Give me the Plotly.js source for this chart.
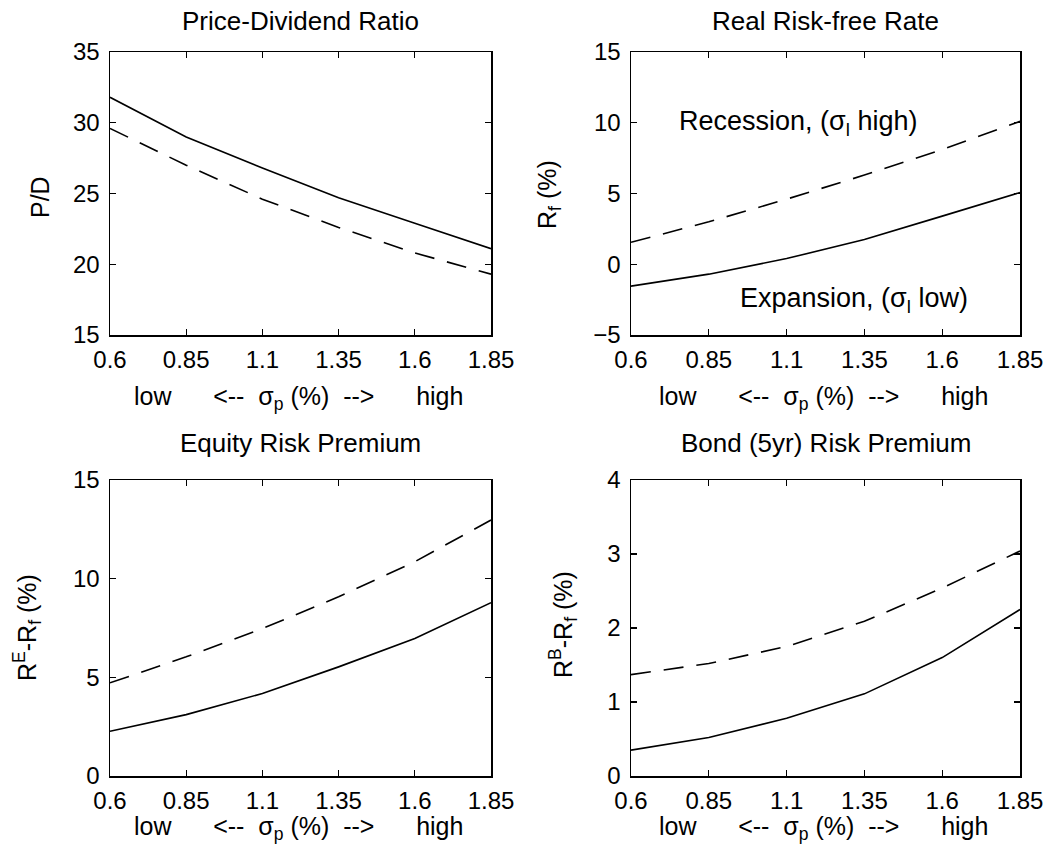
<!DOCTYPE html>
<html>
<head>
<meta charset="utf-8">
<script src="https://cdn.plot.ly/plotly-3.0.1.min.js"></script>
<style>html,body{margin:0;padding:0;background:#fff;}#chart{width:1061px;height:863px;}</style>
</head>
<body>
<div id="chart"></div>
<script>
// sigma_p grid (%)
const sigmaP = [0.6, 0.85, 1.1, 1.35, 1.6, 1.85];
const xTickVals = [0.6, 0.85, 1.1, 1.35, 1.6, 1.85];
const xTickText = ["0.6", "0.85", "1.1", "1.35", "1.6", "1.85"];

// Price-Dividend Ratio
const pdExpansion = [31.8, 29.0, 26.8, 24.7, 22.9, 21.1];
const pdRecession = [29.6, 27.0, 24.6, 22.6, 20.8, 19.3];

// Real Risk-free Rate (%)
const rfExpansion = [-1.55, -0.7, 0.4, 1.75, 3.4, 5.07];
const rfRecession = [1.55, 3.0, 4.6, 6.3, 8.1, 10.1];

// Equity Risk Premium (%)
const erpExpansion = [2.27, 3.11, 4.18, 5.53, 6.97, 8.78];
const erpRecession = [4.72, 6.04, 7.47, 9.08, 10.86, 12.97];

// Bond (5yr) Risk Premium (%)
const brpExpansion = [0.35, 0.52, 0.78, 1.11, 1.6, 2.25];
const brpRecession = [1.37, 1.52, 1.75, 2.09, 2.54, 3.04];

const titles = ["Price-Dividend Ratio", "Real Risk-free Rate", "Equity Risk Premium", "Bond (5yr) Risk Premium"];
const yLabels = ["P/D", "R<sub>f</sub> (%)", "R<sup>E</sup>-R<sub>f</sub> (%)", "R<sup>B</sup>-R<sub>f</sub> (%)"];
const yRanges = [[15, 35], [-5, 15], [0, 15], [0, 4]];
const yTicks = [[15, 20, 25, 30, 35], [-5, 0, 5, 10, 15], [0, 5, 10, 15], [0, 1, 2, 3, 4]];
const NB = "\u00a0";
const xLabel = "low" + NB.repeat(6) + "<--" + NB.repeat(2) + "\u03c3<sub>p</sub> (%)" + NB.repeat(2) + "-->" + NB.repeat(6) + "high";

const W = 1061, H = 863;
const px = v => v / W;
const py = v => 1 - v / H;

// panel pixel boxes [left, right, top, bottom]
const boxes = [[110, 491, 52, 335], [631, 1020, 52, 335], [110, 491, 480, 776], [631, 1020, 480, 776]];

const series = [[pdExpansion, pdRecession], [rfExpansion, rfRecession], [erpExpansion, erpRecession], [brpExpansion, brpRecession]];

const FONT = "Liberation Sans, Arial, Helvetica, sans-serif";
const traces = [];
const layout = {
  width: W, height: H,
  margin: {l: 0, r: 0, t: 0, b: 0},
  paper_bgcolor: "#fff", plot_bgcolor: "#fff",
  showlegend: false,
  font: {family: FONT, color: "#000", size: 24},
  annotations: []
};

series.forEach((s, i) => {
  const n = i + 1;
  const xa = "x" + (n === 1 ? "" : n), ya = "y" + (n === 1 ? "" : n);
  traces.push({x: sigmaP, y: s[0], xaxis: xa, yaxis: ya, mode: "lines", line: {color: "#000", width: 1.6}});
  traces.push({x: sigmaP, y: s[1], xaxis: xa, yaxis: ya, mode: "lines", line: {color: "#000", width: 1.6, dash: "20px,13px"}});
  const b = boxes[i];
  const axCommon = {showline: true, linecolor: "#000", linewidth: 1.5, mirror: "ticks", ticks: "inside", ticklen: 6, tickwidth: 1.2, tickcolor: "#000", showgrid: false, zeroline: false, automargin: false, tickfont: {family: FONT, size: 24, color: "#000"}};
  layout["xaxis" + (n === 1 ? "" : n)] = Object.assign({}, axCommon, {
    domain: [px(b[0]), px(b[1])], anchor: ya, range: [0.6, 1.85],
    tickmode: "array", tickvals: xTickVals, ticktext: xTickText, ticklabelstandoff: 3
  });
  layout["yaxis" + (n === 1 ? "" : n)] = Object.assign({}, axCommon, {
    domain: [py(b[3]), py(b[2])], anchor: xa, range: yRanges[i],
    tickmode: "array", tickvals: yTicks[i], ticklabelstandoff: 4
  });
  const cx = (b[0] + b[1]) / 2;
  layout.annotations.push({text: titles[i], xref: "paper", yref: "paper", x: px(cx), y: py(i < 2 ? 21 : 443), xanchor: "center", yanchor: "middle", showarrow: false, font: {family: FONT, size: 26, color: "#000"}});
  layout.annotations.push({text: xLabel, xref: "paper", yref: "paper", x: px(cx - 2), y: py(i < 2 ? 398 : 828), xanchor: "center", yanchor: "middle", showarrow: false, font: {family: FONT, size: 25, color: "#000"}});
});

// y labels
const yLabPos = [[40, 197], [549, 195], [27, 628], [563, 625]];
yLabels.forEach((t, i) => {
  layout.annotations.push({text: t, xref: "paper", yref: "paper", x: px(yLabPos[i][0]), y: py(yLabPos[i][1]), xanchor: "center", yanchor: "middle", textangle: -90, showarrow: false, font: {family: FONT, size: 25, color: "#000"}});
});

// regime labels in the risk-free panel
layout.annotations.push({text: "Recession, (\u03c3<sub>l</sub> high)", xref: "x2", yref: "y2", x: 0.747, y: 10.0, xanchor: "left", yanchor: "middle", showarrow: false, font: {family: FONT, size: 27, color: "#000"}});
layout.annotations.push({text: "Expansion, (\u03c3<sub>l</sub> low)", xref: "x2", yref: "y2", x: 0.945, y: -2.5, xanchor: "left", yanchor: "middle", showarrow: false, font: {family: FONT, size: 27, color: "#000"}});

Plotly.newPlot("chart", traces, layout, {staticPlot: true, displayModeBar: false});
</script>
</body>
</html>
